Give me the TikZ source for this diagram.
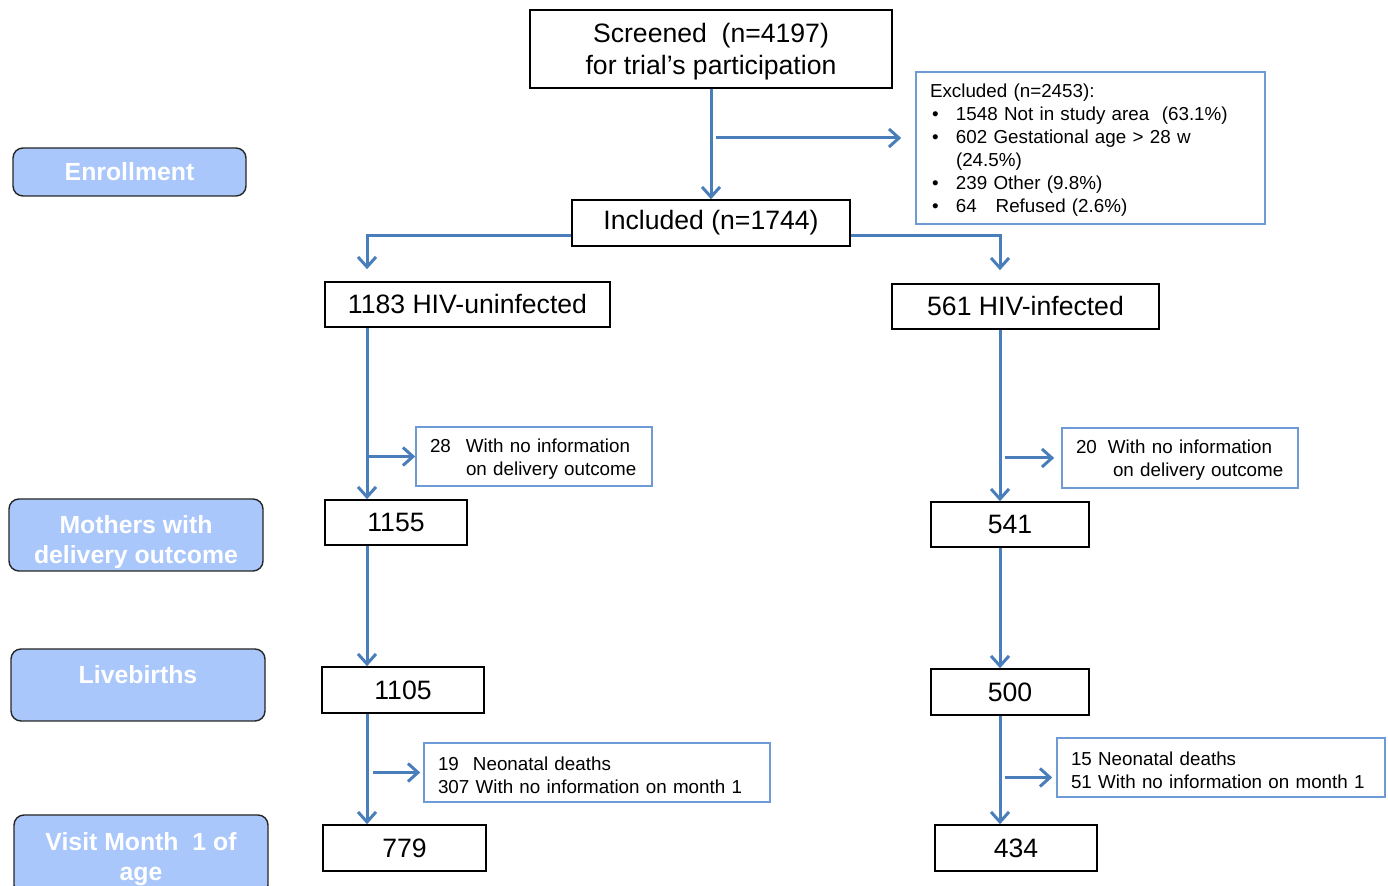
\documentclass[tikz,border=0pt]{standalone}
\usepackage{fontspec}
\setmainfont{Liberation Sans}
\usetikzlibrary{arrows.meta}
\definecolor{arrowblue}{HTML}{4A7EBB}
\definecolor{boxblue}{HTML}{6E9AD6}
\definecolor{stagefill}{HTML}{A9C7FA}
\tikzset{
  mainbox/.style = {shape=rectangle, draw=black, line width=0.8pt,
                    align=center, inner sep=0pt,
                    font=\fontsize{13.3}{16}\selectfont},
  sidebox/.style = {shape=rectangle, draw=boxblue, line width=0.8pt,
                    align=left, inner xsep=7pt, inner ysep=0pt,
                    font=\fontsize{9.4}{11.5}\selectfont},
  stage/.style   = {shape=rectangle, rounded corners=5pt, draw=black!85,
                    line width=0.7pt, fill=stagefill, text=white,
                    align=center, inner sep=0pt,
                    font=\bfseries\fontsize{12.4}{15}\selectfont},
  arr/.style     = {draw=arrowblue, line width=1.5pt,
                    -{Straight Barb[length=5pt,width=9pt]}}
}
% extra room above a first line, pushes the text down
\newcommand{\toppad}[2]{\raisebox{0pt}[\dimexpr\height+#1\relax][\depth]{#2}}

\begin{document}
\begin{tikzpicture}[x=0.5pt, y=-0.5pt]
  \useasboundingbox (0,0) rectangle (1388,886);

  % stages
  \node [stage, minimum width=116.5pt, minimum height=24pt] (enroll) at (129.5,172) {Enrollment};
  \node [stage, minimum width=127pt, minimum height=36pt] (mothers) at (136,535)
        {\toppad{7pt}{Mothers with}\\delivery outcome};
  \node [stage, minimum width=127pt, minimum height=36pt] (births) at (138,685)
        {\raisebox{0pt}[\height][\dimexpr\depth+10pt\relax]{Livebirths}};
  \node [stage, minimum width=127pt, minimum height=40pt] (visit) at (141,855)
        {\toppad{4pt}{Visit Month\ \ 1 of}\\age};

  % flow
  \node [mainbox, minimum width=181pt, minimum height=39pt] (screen) at (711,49)
        {\toppad{3pt}{Screened\ \ (n=4197)}\\for trial’s participation};
  \node [sidebox, text width=160.5pt, minimum height=76pt] (excl) at (1090.5,148)
        {\toppad{2pt}{Excluded (n=2453):}\\
         \hspace*{1pt}\makebox[12pt][l]{\textbullet}1548 Not in study area\ \ (63.1\%)\\
         \hspace*{1pt}\makebox[12pt][l]{\textbullet}602 Gestational age > 28 w\\
         \hspace*{13pt}(24.5\%)\\
         \hspace*{1pt}\makebox[12pt][l]{\textbullet}239 Other (9.8\%)\\
         \hspace*{1pt}\makebox[12pt][l]{\textbullet}64\hspace{1em}Refused (2.6\%)};
  \node [mainbox, minimum width=139pt, minimum height=23pt] (incl) at (711,223) {Included (n=1744)};

  \node [mainbox, minimum width=142.5pt, minimum height=22.5pt] (uninf) at (467.5,304.5) {1183 HIV-uninfected};
  \node [mainbox, minimum width=133.5pt, minimum height=22.5pt] (inf) at (1025.5,306.5) {561 HIV-infected};

  \node [sidebox, text width=104pt, minimum height=29.5pt] (nodel1) at (534,456.5)
        {\toppad{2.5pt}{\makebox[18pt][l]{28}With no information}\\\hspace*{18pt}on delivery outcome};
  \node [sidebox, text width=104pt, minimum height=30pt] (nodel2) at (1180,458)
        {\toppad{2.5pt}{\makebox[16pt][l]{20}With no information}\\\hspace*{18.5pt}on delivery outcome};

  \node [mainbox, minimum width=71pt, minimum height=22.5pt] (deliv1) at (396,522.5) {1155};
  \node [mainbox, minimum width=79pt, minimum height=22.5pt] (deliv2) at (1010,524.5) {541};
  \node [mainbox, minimum width=81pt, minimum height=23pt] (live1) at (403,690) {1105};
  \node [mainbox, minimum width=79pt, minimum height=23pt] (live2) at (1010,692) {500};

  \node [sidebox, text width=159pt, minimum height=29.5pt] (lost1) at (597,772.5)
        {\toppad{2.5pt}{\makebox[17.5pt][l]{19}Neonatal deaths}\\307 With no information on month 1};
  \node [sidebox, text width=150pt, minimum height=29.5pt] (lost2) at (1221,767.5)
        {\toppad{2.5pt}{15 Neonatal deaths}\\51 With no information on month 1};

  \node [mainbox, minimum width=81.5pt, minimum height=23pt] (month1) at (404.5,848) {779};
  \node [mainbox, minimum width=81pt, minimum height=23pt] (month2) at (1016,848) {434};

  % trunks
  \coordinate (lt) at (367,0);
  \coordinate (rt) at (1000,0);

  % connectors
  \draw [arr] (screen) -- (incl);
  \draw [arr] ([xshift=2.5pt,yshift=5pt]screen.south |- excl.west) -- ([xshift=-7pt,yshift=5pt]excl.west);
  \draw [arr, shorten >=6pt] ([yshift=-6.5pt]incl.west) -| (uninf.north -| lt);
  \draw [arr, shorten >=6.5pt] ([yshift=-6.5pt]incl.east) -| (inf.north -| rt);

  \draw [arr] (uninf.south -| lt) -- (deliv1.north -| lt);
  \draw [arr] (nodel1.west -| lt) -- (nodel1.west);
  \draw [arr] (inf.south -| rt) -- (deliv2.north -| rt);
  \draw [arr] ([xshift=2.5pt]nodel2.west -| rt) -- ([xshift=-3.5pt]nodel2.west);

  \draw [arr] (deliv1.south -| lt) -- (live1.north -| lt);
  \draw [arr] (deliv2.south -| rt) -- (live2.north -| rt);

  \draw [arr] (live1.south -| lt) -- (month1.north -| lt);
  \draw [arr] ([xshift=3pt]lost1.west -| lt) -- ([xshift=-1.5pt]lost1.west);
  \draw [arr] (live2.south -| rt) -- (month2.north -| rt);
  \draw [arr] ([xshift=2.5pt,yshift=-5pt]lost2.west -| rt) -- ([xshift=-2pt,yshift=-5pt]lost2.west);
\end{tikzpicture}
\end{document}
